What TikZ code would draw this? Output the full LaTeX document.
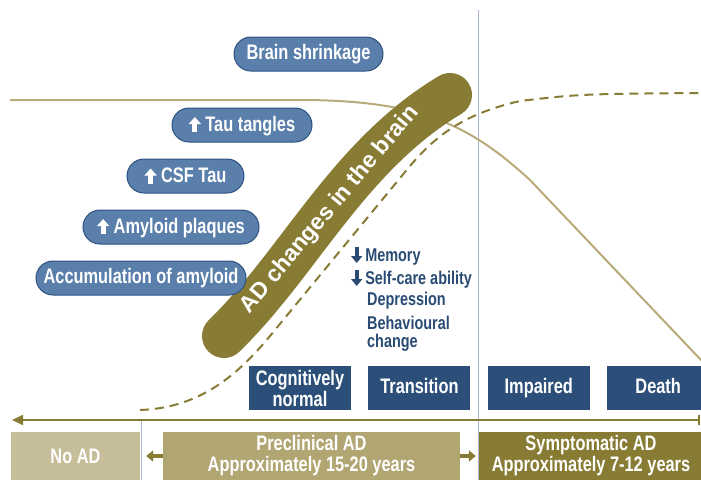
\documentclass[tikz,border=0pt]{standalone}
\usepackage{fontspec}
\setmainfont{Liberation Sans}[FakeStretch=0.78]
\newfontfamily\bandfont{Liberation Sans}
\usepackage{tikz}
\usetikzlibrary{positioning,arrows.meta}
\definecolor{pillfill}{HTML}{5A7FAB}
\definecolor{pillline}{HTML}{2D5382}
\definecolor{stageblue}{HTML}{2B4F78}
\definecolor{listblue}{HTML}{2A4C74}
\definecolor{olive}{HTML}{887C34}
\definecolor{paleolive}{HTML}{B8AB7A}
\definecolor{noadfill}{HTML}{C6BD99}
\definecolor{prefill}{HTML}{B1A571}
\definecolor{axisblue}{HTML}{A7B6D6}
\tikzset{
every node/.style={font=\bfseries\fontsize{21}{21}\selectfont}
, pill/.style={draw=pillline,line width=1pt,fill=pillfill,text=white,rounded corners=17pt,minimum height=34pt,inner sep=0}
, stagebox/.style={fill=stageblue,text=white,minimum width=102pt,minimum height=44pt,align=center,inner sep=0}
, oneline/.style={text height=15pt,text depth=4pt}
, phasebox/.style={text=white,minimum height=48pt,align=center,inner sep=0}
, listtext/.style={text=listblue,align=left,inner sep=0,font=\bfseries\fontsize{18.5}{18}\selectfont}
, smallarr/.style={olive,line width=4pt,-{Triangle[length=7pt,width=11pt]}}}
\newcommand\uparr{\tikz[x=1pt,y=1pt,baseline=0pt]\draw[white,line width=5pt,-{Triangle[length=7pt,width=12pt]}] (0,-1) -- (0,14);}
\newcommand\dnarr{\tikz[x=1pt,y=1pt,baseline=0pt]\draw[listblue,line width=4pt,-{Triangle[length=7pt,width=11pt]}] (0,14) -- (0,-2);}

\begin{document}
\begin{tikzpicture}[x=1pt,y=-1pt]
\useasboundingbox (0,0) rectangle (701,480);
% curves
\draw[axisblue,line width=1pt] (478,10) -- (478,480);
\draw[axisblue,line width=1pt] (141,420) -- (141,480);
\draw[paleolive,line width=2pt] (10,100) -- (300,100) .. controls (420,100) and (470,125) .. (530,180) -- (720,380);
\draw[olive,line width=2pt,dash pattern=on 9pt off 6pt] (140,410) .. controls (202,408) and (240,372) .. (270,336) -- (405,172) .. controls (432,139) and (459,115) .. (520,101) .. controls (580,94) .. (701,93);
\draw[olive,line width=44pt,line cap=round] (224,336) .. controls (300,262) and (348,156) .. (450,95);
\node[rotate=50,text=white,font=\bandfont\bfseries\fontsize{23}{24}\selectfont] (band) at (330,210) {AD changes in the brain};
% pills
\node[pill,minimum width=149pt] (shrink) at (308.5,54) {Brain shrinkage};
\node[pill,minimum width=140pt] (tau) at (242,125) {\uparr\ Tau tangles};
\node[pill,minimum width=117pt] (csf) at (185.5,176) {\uparr\ CSF Tau};
\node[pill,minimum width=176pt] (plaq) at (171,227) {\uparr\ Amyloid plaques};
\node[pill,minimum width=210pt] (accum) at (141,278) {Accumulation of amyloid};
% symptoms
\node[listtext,anchor=west] (mem) at (351,255) {\dnarr\,Memory};
\node[listtext,anchor=west] (self) at (351,278) {\dnarr\,Self-care ability};
\node[listtext,anchor=west] (dep) at (367,301) {Depression};
\node[listtext,anchor=north west] (beh) at (367,316) {Behavioural\\change};
% stages
\node[stagebox] (cog) at (300,388) {Cognitively\\normal};
\node[stagebox,oneline,right=17pt of cog] (trans) {Transition};
\node[stagebox,oneline,right=17pt of trans] (imp) {Impaired};
\node[stagebox,oneline,right=17pt of imp] (death) {Death};
% time axis
\coordinate (axl) at (12,420);
\coordinate (axr) at (700,420);
\draw[olive,line width=2pt,{Triangle[length=11pt,width=10pt]}-{Bar[width=10pt]}] (axl) -- (axr);
\node[phasebox,fill=noadfill,minimum width=129pt] (noad) at (75.5,456) {No AD};
\node[phasebox,fill=prefill,minimum width=297pt] (pre) at (311.5,456) {Preclinical AD\\Approximately 15-20 years};
\node[phasebox,fill=olive,minimum width=224pt] (symp) at (591,456) {Symptomatic AD\\Approximately 7-12 years};
\draw[smallarr,shorten >=6pt] (pre.west) -- (noad.east);
\draw[smallarr,shorten >=3pt] (pre.east) -- (symp.west);
\end{tikzpicture}
\end{document}
